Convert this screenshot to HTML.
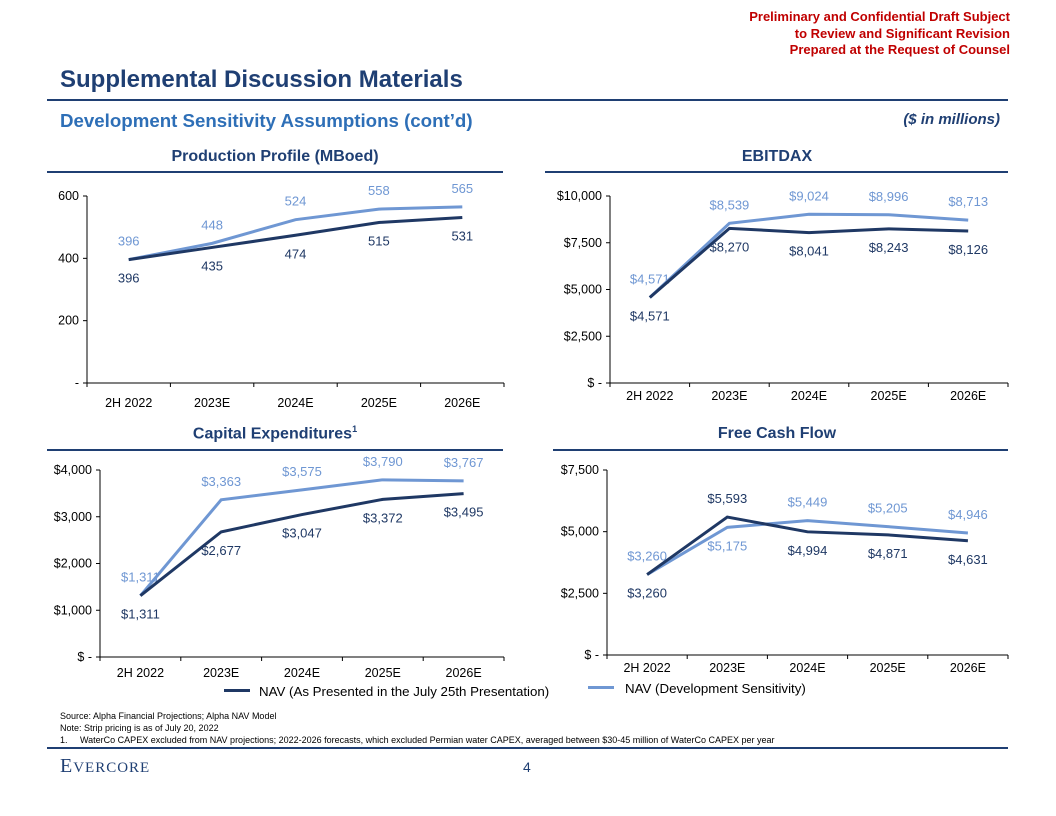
<!DOCTYPE html>
<html><head><meta charset="utf-8">
<style>
body{margin:0;width:1056px;height:816px;background:#fff;font-family:"Liberation Sans",Arial,sans-serif;position:relative;overflow:hidden}
.a{position:absolute;white-space:nowrap}
.red{right:46px;color:#c00000;font-weight:bold;font-size:13px;text-align:right;line-height:16.5px;top:9px}
.ct{font-weight:bold;font-size:16px;color:#1f3f73;transform:translateX(-50%)}
.rule{position:absolute;background:#1f3f73}
.fn{font-size:9px;color:#000;left:60px}
</style></head><body>
<div class="a red">Preliminary and Confidential Draft Subject<br>to Review and Significant Revision<br>Prepared at the Request of Counsel</div>
<div class="a" style="left:60px;top:66px;font-size:24px;font-weight:bold;color:#1f3f73">Supplemental Discussion Materials</div>
<div class="rule" style="left:47px;top:99px;width:961px;height:2px"></div>
<div class="a" style="left:60px;top:110px;font-size:18.7px;font-weight:bold;color:#2e6fb7">Development Sensitivity Assumptions (cont’d)</div>
<div class="a" style="right:56px;top:111px;font-size:15px;font-weight:bold;font-style:italic;color:#1f3f73">($ in millions)</div>

<div class="a ct" style="left:275px;top:148px">Production Profile (MBoed)</div>
<div class="rule" style="left:47px;top:171px;width:456px;height:1.5px"></div>
<div class="a ct" style="left:777px;top:148px">EBITDAX</div>
<div class="rule" style="left:545px;top:171px;width:463px;height:1.5px"></div>
<div class="a ct" style="left:275px;top:424px">Capital Expenditures<sup style="font-size:9px">1</sup></div>
<div class="rule" style="left:47px;top:449px;width:456px;height:1.5px"></div>
<div class="a ct" style="left:777px;top:425px">Free Cash Flow</div>
<div class="rule" style="left:553px;top:449px;width:455px;height:1.5px"></div>

<svg id="svg" width="1056" height="816" style="position:absolute;left:0;top:0" font-family="Liberation Sans,Arial,sans-serif"></svg>

<div class="a" style="left:224px;top:689px;width:26px;height:3px;background:#1f3864"></div>
<div class="a" style="left:259px;top:684px;font-size:13.3px">NAV (As Presented in the July 25th Presentation)</div>
<div class="a" style="left:588px;top:686px;width:26px;height:3px;background:#6f97d3"></div>
<div class="a" style="left:625px;top:681px;font-size:13.3px">NAV (Development Sensitivity)</div>

<div class="a fn" style="top:711px">Source: Alpha Financial Projections; Alpha NAV Model</div>
<div class="a fn" style="top:723px">Note: Strip pricing is as of July 20, 2022</div>
<div class="a fn" style="top:735px">1.&nbsp;&nbsp;&nbsp;&nbsp;&nbsp;WaterCo CAPEX excluded from NAV projections; 2022-2026 forecasts, which excluded Permian water CAPEX, averaged between $30-45 million of WaterCo CAPEX per year</div>
<div class="rule" style="left:47px;top:747px;width:961px;height:2px"></div>
<div class="a" style="left:60px;top:755px;font-family:'Liberation Serif',serif;font-size:20px;color:#1f3f73;letter-spacing:1px">E<span style="font-size:15px">VERCORE</span></div>
<div class="a" style="left:523px;top:759px;font-size:14px;color:#1f3f73">4</div>

<script>
const categories = ["2H 2022","2023E","2024E","2025E","2026E"];
const prodDark = [396,435,474,515,531];
const prodLight = [396,448,524,558,565];
const prodTicks = ["-","200","400","600"];
const ebitDark = [4571,8270,8041,8243,8126];
const ebitLight = [4571,8539,9024,8996,8713];
const ebitTicks = ["$ -","$2,500","$5,000","$7,500","$10,000"];
const capexDark = [1311,2677,3047,3372,3495];
const capexLight = [1311,3363,3575,3790,3767];
const capexTicks = ["$ -","$1,000","$2,000","$3,000","$4,000"];
const fcfDark = [3260,5593,4994,4871,4631];
const fcfLight = [3260,5175,5449,5205,4946];
const fcfTicks = ["$ -","$2,500","$5,000","$7,500"];

const DARK="#1f3864", LIGHT="#6f97d3";
const svg=document.getElementById('svg');
const NS="http://www.w3.org/2000/svg";
function mk(t,a,p){const e=document.createElementNS(NS,t);for(const k in a)e.setAttribute(k,a[k]);(p||svg).appendChild(e);return e;}
function fmt(v,d){return d?"$"+v.toLocaleString("en-US"):String(v);}

function chart(name,c,dark,light,ticks,dollar,darkPos,lightPos){
  const g=mk('g',{});
  
  
  const n=categories.length, w=(c.x1-c.x0)/n;
  const xs=i=>c.x0+w*(i+0.5);
  const ys=v=>c.y0-(v/c.max)*(c.y0-c.y1);
  mk('line',{x1:c.x0,y1:c.y1,x2:c.x0,y2:c.y0,stroke:'#000','stroke-width':1},g);
  mk('line',{x1:c.x0,y1:c.y0,x2:c.x1,y2:c.y0,stroke:'#000','stroke-width':1},g);
  ticks.forEach((t,i)=>{
    const v=c.max*i/(ticks.length-1), y=ys(v);
    mk('line',{x1:c.x0-4,y1:y,x2:c.x0,y2:y,stroke:'#000'},g);
    const tx=mk('text',{x:c.x0-8,y:y+4,'text-anchor':'end','font-size':12.5,fill:'#000'},g);
    tx.textContent=t;
    
    
  });
  for(let i=0;i<=n;i++) mk('line',{x1:c.x0+w*i,y1:c.y0,x2:c.x0+w*i,y2:c.y0+4,stroke:'#000'},g);
  categories.forEach((cat,i)=>{
    const tx=mk('text',{x:xs(i),y:c.y0+c.ly,'text-anchor':'middle','font-size':12.5,fill:'#000'},g);
    tx.textContent=cat;
    
    
  });
  [[light,LIGHT,'light',lightPos],[dark,DARK,'dark',darkPos]].forEach(([d,col,nm,pos])=>{
    const p=mk('polyline',{points:d.map((v,i)=>xs(i)+','+ys(v)).join(' '),fill:'none',stroke:col,'stroke-width':3},g);
    
    
    d.forEach((v,i)=>{
      const off=pos[i]<0?-14:23;
      const tx=mk('text',{x:xs(i),y:ys(v)+off,'text-anchor':'middle','font-size':13,fill:col},g);
      tx.textContent=fmt(v,dollar);
      
      
    });
  });
}
chart('production',{x0:87,x1:504,y0:383,y1:196,max:600,ly:24},prodDark,prodLight,prodTicks,false,[1,1,1,1,1],[-1,-1,-1,-1,-1]);
chart('ebitdax',{x0:610,x1:1008,y0:383,y1:196,max:10000,ly:17},ebitDark,ebitLight,ebitTicks,true,[1,1,1,1,1],[-1,-1,-1,-1,-1]);
chart('capex',{x0:100,x1:504,y0:657,y1:470,max:4000,ly:20},capexDark,capexLight,capexTicks,true,[1,1,1,1,1],[-1,-1,-1,-1,-1]);
chart('fcf',{x0:607,x1:1008,y0:655,y1:470,max:7500,ly:17},fcfDark,fcfLight,fcfTicks,true,[1,-1,1,1,1],[-1,1,-1,-1,-1]);
</script>
</body></html>
